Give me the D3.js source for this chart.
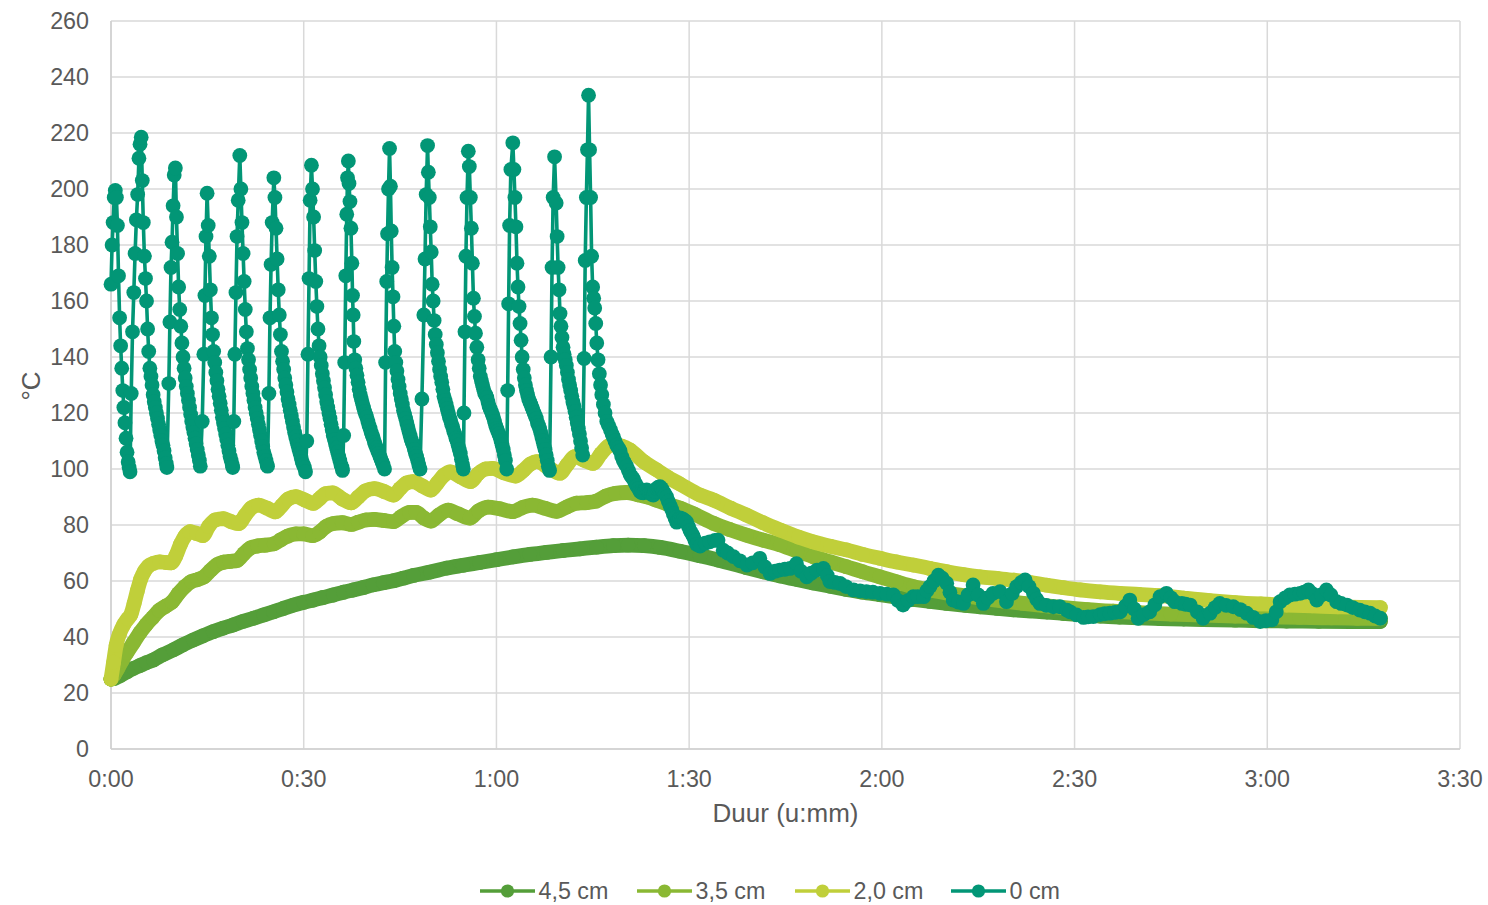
<!DOCTYPE html>
<html>
<head>
<meta charset="utf-8">
<script src="https://cdn.jsdelivr.net/npm/d3@7"></script>
<style>
  html, body { margin: 0; padding: 0; background: #ffffff; }
  svg { display: block; font-family: "Liberation Sans", Arial, sans-serif; }
</style>
</head>
<body>
<svg id="chart" width="1488" height="905"></svg>
<script>
// Series names and colours (legend order = drawing order)
const seriesNames = ["4,5 cm", "3,5 cm", "2,0 cm", "0 cm"];
const seriesColors = ["#549e39", "#8ab833", "#c0cf3a", "#029676"];

// Axis ticks: duration in minutes shown as u:mm, temperature in °C
const xTickValues = [0, 30, 60, 90, 120, 150, 180, 210];
const xTickLabels = ["0:00", "0:30", "1:00", "1:30", "2:00", "2:30", "3:00", "3:30"];
const yTickValues = [0, 20, 40, 60, 80, 100, 120, 140, 160, 180, 200, 220, 240, 260];

// [minutes, °C] at 4,5 cm depth
const temp45 = [
  [0,25],[0.5,25.2],[1.5,26.3],[2.5,27.6],[3.5,28.8],[4.5,29.8],[5.5,30.8],[6.6,31.8],[8,33.6],[9.7,35.4],
  [11.2,37.2],[12.8,38.9],[14.3,40.4],[15.9,41.9],[17.5,43.2],[19,44.3],[20.6,45.6],[22.2,46.7],[23.8,47.9],
  [25.3,49],[26.8,50.2],[28.4,51.4],[30,52.4],[31.5,53.2],[33,54.1],[34.6,55],[36.2,56],[37.7,56.8],[39.3,57.7],
  [40.8,58.6],[42.4,59.4],[44,60.1],[45.5,61],[47.1,62],[49.7,63.2],[52.3,64.6],[54.8,65.6],[57.4,66.6],
  [60,67.6],[62.6,68.6],[65.2,69.5],[67.8,70.2],[70.4,70.9],[73,71.5],[75.6,72.1],[78.2,72.6],[80.5,72.8],
  [83,72.6],[85.5,72],[88.6,70.6],[91.7,69],[94.5,67.5],[98.9,64.8],[101.5,63.3],[104.2,61.8],[106.8,60.5],
  [109.3,59.3],[112,58.1],[114.5,57],[117,56],[119.7,55.1],[122.3,54.2],[124.9,53.4],[127.5,52.7],[130.1,52],
  [133,51.3],[135.3,50.8],[138,50.2],[140.5,49.7],[143,49.3],[145.7,48.9],[148.3,48.4],[150.9,47.9],[154,47.5],
  [157,47.1],[160,46.8],[163.3,46.6],[167,46.4],[170,46.2],[175,46],[178.9,45.8],[183,45.7],[188,45.6],
  [193,45.5],[197.6,45.5]
];

// [minutes, °C] at 3,5 cm depth
const temp35 = [
  [0,25],[0.5,26.5],[1,28.5],[1.7,31.5],[2.5,34.5],[3.5,38],[4.5,41.5],[5.5,44.5],[6.5,47],[7.5,49.5],
  [8.5,51],[9.5,52.5],[10.5,55.5],[11.5,58],[12.5,59.8],[13.5,60.5],[14.5,61.5],[15.5,63.8],[16.5,65.8],
  [17.5,66.7],[18.5,67],[19.7,67.4],[20.7,69.8],[21.7,71.8],[22.8,72.5],[24,72.8],[25.4,73.3],[26.5,74.8],
  [27.5,76],[28.8,76.8],[30,76.8],[31.4,76.2],[32.5,77.5],[33.5,79.5],[34.6,80.5],[36,80.8],[37.4,80.2],
  [38.5,81],[39.7,81.8],[41,82],[42.5,81.6],[44,81.2],[45.2,83],[46.5,84.5],[47.5,84.5],[48.7,82.5],
  [49.8,81.4],[51,83.5],[52.5,85.3],[54,84],[55.9,82.5],[57.2,85],[58.7,86.4],[60.5,85.8],[62.6,84.8],
  [64,86.2],[65.6,87.1],[67.5,86],[69.4,84.9],[71,86.5],[72.5,87.8],[74.1,88],[75.5,88.5],[77,90.3],
  [78.5,91.3],[80.3,91.6],[82,90.8],[83.5,90],[85,88.8],[86.5,87.6],[88.6,86],[90.7,84],[93.8,80.6],
  [96.3,78.4],[98.9,76.4],[101.5,74.6],[104.2,72.9],[106.8,70.7],[109.3,68.7],[112,66.8],[114.5,65.1],
  [117,63.3],[119.7,61.5],[122.3,59.7],[124.9,58],[127.5,56.8],[130.1,55.7],[133,54.7],[136,53.7],[139,52.8],
  [142,52],[145,51.3],[148,50.6],[152,49.8],[156,49.2],[160,48.7],[165,48.2],[170,47.8],[175,47.5],
  [180,47.2],[185,47],[190,46.8],[194,46.7],[197.6,46.6]
];

// [minutes, °C] at 2,0 cm depth
const temp20 = [
  [0,25],[0.4,31],[0.8,37],[1.3,41],[2,44.5],[2.6,46.5],[3.1,48],[3.6,52],[4.1,56.5],[4.6,60.5],[5.2,63.5],
  [5.8,65.3],[6.6,66.3],[7.6,66.8],[8.6,66.6],[9.4,66.5],[10.1,69],[10.8,73],[11.5,76],[12.3,77.6],[13.3,77],
  [14.3,76.2],[15.2,79.5],[16.2,81.8],[17.5,82.3],[18.7,81.2],[19.9,80.5],[20.9,83.5],[21.9,86.2],[23,87.1],
  [24.3,86],[25.6,84.7],[26.6,87],[27.6,89.3],[28.8,90.1],[30.1,89],[31.5,87.7],[32.5,89.5],[33.4,91.2],
  [34.5,91.5],[36,89.3],[37.4,87.9],[38.5,90],[39.6,92.2],[41,93],[42.5,92],[44,90.7],[45,93],[46,95],
  [47,95.5],[48.4,94],[49.8,92.5],[50.8,95],[51.8,97.7],[52.8,99],[54.4,97.2],[56,95.5],[57.1,98.2],
  [58.3,100],[59.4,100.2],[61.2,98.6],[63,97.5],[64.2,99.5],[65.3,101.8],[66.3,102.6],[68.2,100.3],
  [69.9,98.5],[71,101.5],[72.2,104.4],[73.6,103.2],[75,102],[76.3,105.5],[77.5,108.3],[78.3,108.6],
  [79.5,108.2],[80.8,106.8],[83,102.5],[85,99.6],[86.5,97.3],[88.6,94.6],[91.7,90.7],[93.8,88.9],[96.5,86],
  [98.9,83.6],[101.5,80.8],[104.2,78.2],[107,75.7],[109.3,74],[112,72.4],[114.5,71.1],[117,69.5],[119.7,68.1],
  [122.3,66.8],[124.9,65.7],[127.5,64.5],[130.1,63.3],[132.7,62.3],[135.3,61.5],[137.9,60.9],[140.5,60.3],
  [143.1,59.4],[145.7,58.5],[148.3,57.6],[150.9,56.8],[154,56.1],[157,55.6],[160,55.2],[163.3,54.8],
  [167,53.9],[171,53],[175,52.3],[179,51.8],[183,51.4],[187,51.1],[191,50.8],[194.5,50.6],[197.6,50.5]
];

// [minutes, °C] at the surface (0 cm): burner cycles, then cooling
const temp0 = [
  // cycle 1
  [0.00,166],[0.17,180],[0.33,188],[0.50,197],[0.67,199.5],[0.84,197],[1.00,187],[1.17,169],[1.34,154],[1.50,144],
  [1.67,136],[1.84,128],[2.00,122],[2.17,116.5],[2.34,111],[2.50,106],[2.67,102.5],[2.82,100.5],[2.96,99],
  // cycle 2
  [3.15,127],[3.35,149],[3.55,163],[3.75,177],[3.95,189],[4.15,198],[4.35,211],[4.52,216],[4.70,218.5],
  [4.87,203],[5.03,188],[5.20,176],[5.37,168],[5.53,160],[5.70,150],[5.87,142],[6.05,136],[6.22,133],[6.39,130],
  [6.56,126.5],[6.73,124],[6.90,122],[7.07,120],[7.24,118],[7.41,116],[7.58,114],[7.75,112],[7.92,110],[8.09,108.5],
  [8.26,106.5],[8.43,104],[8.60,102],[8.70,100.5],
  // cycle 3
  [9.00,130.5],[9.17,152.5],[9.34,172],[9.50,181],[9.67,194],[9.84,205],[10.02,207.5],
  [10.19,190],[10.36,177],[10.53,165],[10.70,157],[10.87,151],[11.04,145],[11.21,140],[11.38,136],[11.55,132.5],
  [11.72,129.5],[11.89,127],[12.06,124.5],[12.23,122],[12.40,119.5],[12.57,117],[12.74,115],[12.91,113],[13.08,111],
  [13.25,109],[13.42,107],[13.59,105],[13.76,103],[13.90,101],
  // cycle 4
  [14.20,117],[14.45,141],[14.62,162],[14.79,183],[14.96,198.5],
  [15.13,187],[15.30,176],[15.47,164],[15.64,154],[15.81,148],[15.98,142],[16.15,138],[16.32,134.5],[16.49,131.5],
  [16.66,128.5],[16.83,126],[17.00,123.5],[17.17,121],[17.34,118.5],[17.51,116.5],[17.68,114.5],[17.85,112.5],
  [18.02,110.5],[18.19,108.5],[18.36,106.5],[18.53,104.5],[18.70,103],[18.87,101.5],[18.95,100.5],
  // cycle 5
  [19.12,117],[19.28,141],[19.45,163],[19.62,183],[19.80,196],[20.05,212],
  [20.22,200],[20.39,188],[20.56,177],[20.73,167],[20.90,157],[21.07,149],[21.24,143],[21.41,139],[21.58,135.5],
  [21.75,132.5],[21.92,129.5],[22.09,127],[22.26,124.5],[22.43,122],[22.60,120],[22.77,118],[22.94,116],[23.11,114],
  [23.28,112],[23.45,110],[23.62,108],[23.79,106],[23.96,104.5],[24.13,103],[24.30,101.5],[24.37,101],
  // cycle 6
  [24.58,127],[24.75,154],[24.92,173],[25.09,188],[25.35,204],
  [25.52,197],[25.69,186],[25.86,175],[26.03,164],[26.20,155],[26.37,148],[26.54,142],[26.71,138.5],[26.88,135.5],
  [27.05,132.5],[27.22,130],[27.39,127.5],[27.56,125],[27.73,123],[27.90,121],[28.07,119],[28.24,117],[28.41,115],
  [28.58,113],[28.75,111.5],[28.92,110],[29.09,108.5],[29.26,107],[29.43,105.5],[29.60,104],[29.77,102.5],
  [29.94,101.5],[30.11,100.5],[30.28,99],
  // cycle 7
  [30.48,110],[30.66,141],[30.83,168],[31.00,196],[31.20,208.5],
  [31.37,200],[31.54,190],[31.71,178],[31.88,167],[32.05,158],[32.22,150],[32.39,144],[32.56,140],[32.73,137],
  [32.90,134],[33.07,131.5],[33.24,129],[33.41,126.5],[33.58,124],[33.75,122],[33.92,120],[34.09,118],[34.26,116],
  [34.43,114],[34.60,112],[34.77,110.5],[34.94,109],[35.11,107.5],[35.28,106],[35.45,104.5],[35.62,103],
  [35.79,101.5],[35.96,100.5],[36.04,99.5],
  // cycle 8
  [36.22,112],[36.38,138],[36.55,169],[36.70,191],[36.82,204],[36.95,210],
  [37.05,202],[37.20,195.5],[37.35,186],[37.50,173.5],[37.60,162],[37.70,155],[37.80,145.5],[37.95,139],[38.12,136],
  [38.29,133.5],[38.46,131],[38.63,128.5],[38.80,126.5],[38.97,125],[39.14,123.5],[39.31,122],[39.48,120.5],
  [39.65,119.5],[39.82,118.5],[39.99,117],[40.16,115.5],[40.33,114.5],[40.50,113],[40.67,112],[40.84,111],
  [41.01,109.5],[41.18,108.5],[41.35,107.5],[41.52,106.5],[41.69,105.5],[41.86,104.5],[42.03,103.5],[42.20,102.5],
  [42.37,101.5],[42.58,100],
  // cycle 9
  [42.75,138],[42.92,167],[43.05,184],[43.20,200],[43.36,214.5],
  [43.50,201],[43.63,185],[43.76,172],[43.90,161.5],[44.03,151],[44.17,142],[44.34,138],[44.51,135],[44.68,132],
  [44.85,129.5],[45.02,127],[45.19,125],[45.36,123],[45.53,121],[45.70,119.5],[45.87,118],[46.04,116.5],[46.21,115],
  [46.38,113.5],[46.55,112],[46.72,110.5],[46.89,109.5],[47.06,108.5],[47.23,107],[47.40,105.5],[47.57,104.5],
  [47.74,103],[47.91,101.5],[48.11,100],
  // cycle 10
  [48.40,125],[48.70,155],[48.88,175],[49.06,198],[49.28,215.5],
  [49.40,206],[49.55,197],[49.70,186.5],[49.85,177.5],[50.00,166],[50.15,160],[50.30,153],[50.47,148],[50.64,144.5],
  [50.81,141.5],[50.98,138.5],[51.15,135.5],[51.32,133],[51.49,131],[51.66,128.5],[51.83,126],[52.00,124.5],
  [52.17,123],[52.34,121.5],[52.51,120],[52.68,118.5],[52.85,117.5],[53.02,116],[53.19,115],[53.36,113.5],
  [53.53,112.5],[53.70,111],[53.87,110],[54.04,108.5],[54.21,107],[54.38,105.5],[54.55,103.5],[54.72,101.5],[54.85,100],
  // cycle 11
  [54.95,120],[55.10,149],[55.25,176],[55.42,197],[55.62,213.5],
  [55.78,208],[55.94,197],[56.10,186],[56.26,173.5],[56.42,161],[56.58,154.5],[56.74,148.5],[56.95,143.5],[57.15,139],
  [57.32,136],[57.49,133],[57.66,131.5],[57.83,130],[58.00,128.5],[58.17,127],[58.34,126.5],[58.51,125.5],[58.68,124],
  [58.85,122.5],[59.02,121.5],[59.19,120.5],[59.36,119.5],[59.53,118.5],[59.70,117],[59.87,115.5],[60.04,114.5],
  [60.21,113.5],[60.38,112.5],[60.55,111.5],[60.72,110],[60.89,108.5],[61.06,107],[61.23,105],[61.40,103],[61.60,100],
  // cycle 12
  [61.75,128],[61.90,159],[62.05,187],[62.25,207],[62.55,216.5],
  [62.72,207],[62.88,197],[63.04,186.5],[63.20,173.5],[63.36,165],[63.52,158],[63.68,152],[63.84,146],[64.00,140],
  [64.17,135.5],[64.34,132.5],[64.51,130],[64.68,128],[64.85,126.5],[65.02,125],[65.19,124],[65.36,123],[65.53,122],
  [65.70,121],[65.87,120],[66.04,119],[66.21,118],[66.38,116.5],[66.55,115.5],[66.72,114.5],[66.89,113],[67.06,111.5],
  [67.23,110],[67.40,108.5],[67.57,107],[67.74,105],[67.91,103],[68.08,101],[68.27,99.5],
  // cycle 13
  [68.50,140],[68.66,172],[68.83,197],[69.05,211.5],
  [69.30,195],[69.45,183],[69.60,172],[69.75,164],[69.90,155.5],[70.05,151],[70.20,147],[70.37,143.5],[70.54,141],
  [70.71,139],[70.88,137],[71.05,134.5],[71.22,132],[71.39,130],[71.56,128],[71.73,126],[71.90,124],[72.07,122.5],
  [72.24,120.5],[72.41,118.5],[72.58,116.5],[72.75,114.5],[72.92,112.5],[73.09,110],[73.26,107.5],[73.43,105],
  // cycle 14 and cooling
  [73.65,139.5],[73.82,174.5],[74.00,197],[74.17,214],[74.34,233.5],
  [74.50,214],[74.66,197],[74.82,176],[74.98,165],[75.14,161],[75.30,157.5],[75.46,152],[75.62,145],[75.82,139],
  [76.02,134],[76.21,130],[76.40,126.5],[76.65,123],[76.91,120],[77.18,117],[77.45,115.5],[77.75,114],[78.00,112.5],
  [78.20,111.5],[78.45,110],[78.72,108.5],[79.00,107.5],[79.24,106.5],[79.50,104.5],[79.75,103],[80.00,102],
  [80.28,101],[80.55,99.5],[80.80,98],[81.05,97.2],[81.30,96.5],[81.55,95.2],[81.84,94],[82.10,93],[82.35,92],
  [82.60,91.6],[82.86,91.5],[83.12,92],[83.39,92.5],[83.65,92],[83.90,91.5],[84.15,91],[84.42,90.7],[84.70,92],
  [84.95,93],[85.20,93.5],[85.47,93.7],[85.72,93],[85.98,92],[86.25,91],[86.51,90],[86.75,88.5],[87.02,87],
  [87.28,85.5],[87.53,84],[87.80,82.5],[88.06,81],[88.32,81.8],[88.58,82.5],[88.84,82.3],[89.09,82],[89.35,81.5],
  [89.62,81],[89.88,79.5],[90.13,78],[90.40,77],[90.65,76],[90.90,74.5],[91.18,73],
  [91.7,72.5],[92.5,73.5],[93.2,74],[94.0,74.5],[94.5,74.6],[95.3,71],[96.0,70],[96.9,68.7],[97.9,67.2],[99.0,65.7],
  [99.9,66.5],[101.0,68.1],[101.8,65],[102.6,62.7],[103.4,63.5],[104.1,63.9],[104.9,64.2],[105.7,64.5],[106.7,66.2],
  [107.4,63.5],[108.3,61.5],[109.0,62.8],[109.9,63.9],[110.9,64.5],[111.5,62],[111.9,59.8],[112.7,59.5],[113.5,59.1],
  [114.4,58],[115.6,56.8],[116.6,56.5],[117.6,56.2],[118.6,56],[119.7,55.6],[120.8,55.3],[121.8,55],[122.5,53],
  [123.3,51.4],[124.1,53],[124.9,54.4],[125.6,54.4],[126.5,54.4],[127.0,56.5],[127.5,58],[128.1,60],[128.8,62.1],
  [129.4,61],[130.1,59.2],[130.6,56],[131.1,53.2],[131.9,52.5],[132.7,52],[133.4,55],[134.2,58.6],[135.0,55],
  [135.8,52],[136.5,54],[137.3,55.6],[138.4,56.2],[139.4,52.6],[140.3,55.5],[141.0,58],[141.7,59.5],[142.3,60.4],
  [142.9,58],[143.6,55.6],[144.1,53.5],[144.6,52],[145.6,51.3],[146.7,50.8],[147.7,50.8],[148.8,49.6],[149.3,49],
  [150.3,47.9],[151.4,47],[152.1,47.2],[152.9,47.3],[154.0,48],[154.7,48.3],[155.5,48.5],[156.3,48.8],[157.1,49],
  [157.9,51],[158.6,53.2],[159.3,50],[159.9,46.7],[160.8,48],[161.7,49],[162.5,51.5],[163.3,54.4],[164.3,55.6],
  [165.0,54],[165.6,52.6],[166.7,52],[167.3,51.7],[168.0,51.4],[169.1,49],[170.0,46.7],[171.1,48.5],[171.9,50.5],
  [172.6,52],[173.6,51.3],[174.7,50.8],[175.8,49.8],[176.8,48.5],[177.8,47],[178.9,45.5],[179.8,45.8],[180.7,46.1],
  [181.4,49],[182.0,52.6],[182.8,54],[183.5,55],[184.3,55.3],[185.1,55.6],[185.7,56],[186.4,56.8],[187.0,55.5],
  [187.7,53.2],[188.4,55],[189.2,56.8],[189.9,55],[190.8,52.6],[191.5,52],[192.4,51.4],[193.3,50.5],[194.4,49.6],
  [195.2,49],[196.0,48.5],[196.8,47.5],[197.6,46.7]
];

const seriesData = [temp45, temp35, temp20, temp0];

// ---- layout ----
const svg = d3.select("#chart");
const plot = { left: 111, right: 1460, top: 21, bottom: 749 };
const textColor = "#595959";
const gridColor = "#d9d9d9";
const tickFont = 23.3;
const titleFont = 26;

const x = d3.scaleLinear().domain([0, 210]).range([plot.left, plot.right]);
const y = d3.scaleLinear().domain([0, 260]).range([plot.bottom, plot.top]);

// Gridlines
const grid = svg.append("g");
grid.selectAll("line.h").data(yTickValues).join("line")
  .attr("x1", plot.left).attr("x2", plot.right)
  .attr("y1", d => y(d)).attr("y2", d => y(d))
  .attr("stroke", gridColor).attr("stroke-width", 1.5);
grid.selectAll("line.v").data(xTickValues).join("line")
  .attr("x1", d => x(d)).attr("x2", d => x(d))
  .attr("y1", plot.top).attr("y2", plot.bottom)
  .attr("stroke", gridColor).attr("stroke-width", 1.5);

// Axis lines
svg.append("line").attr("x1", plot.left).attr("x2", plot.right)
  .attr("y1", y(0)).attr("y2", y(0)).attr("stroke", "#d0d0d0").attr("stroke-width", 1.5);
svg.append("line").attr("x1", x(0)).attr("x2", x(0))
  .attr("y1", plot.top).attr("y2", plot.bottom).attr("stroke", "#d0d0d0").attr("stroke-width", 1.5);

// Y tick labels
svg.append("g").selectAll("text").data(yTickValues).join("text")
  .attr("x", 89).attr("y", d => y(d)).attr("dy", "0.357em")
  .attr("text-anchor", "end").attr("fill", textColor).attr("font-size", tickFont)
  .text(d => d);

// X tick labels
svg.append("g").selectAll("text").data(xTickValues).join("text")
  .attr("x", d => x(d)).attr("y", 786.5)
  .attr("text-anchor", "middle").attr("fill", textColor).attr("font-size", tickFont)
  .text((d, i) => xTickLabels[i]);

// Axis titles
svg.append("text").attr("x", (plot.left + plot.right) / 2).attr("y", 822)
  .attr("text-anchor", "middle").attr("fill", textColor).attr("font-size", titleFont)
  .text("Duur (u:mm)");
svg.append("text").attr("transform", "translate(40,386) rotate(-90)")
  .attr("text-anchor", "middle").attr("fill", textColor).attr("font-size", titleFont)
  .text("°C");

// ---- series ----
// Depth series are sampled so densely that their markers merge into a broad band;
// the surface series shows separate markers joined by a thin line.
const smoothLine = d3.line().x(d => x(d[0])).y(d => y(d[1])).curve(d3.curveMonotoneX);
const plainLine = d3.line().x(d => x(d[0])).y(d => y(d[1]));
const markerRadius = 7.4;

const seriesLayer = svg.append("g");
seriesData.forEach((data, i) => {
  const g = seriesLayer.append("g");
  const surface = i === 3;
  g.append("path")
    .attr("d", surface ? plainLine(data) : smoothLine(data))
    .attr("fill", "none")
    .attr("stroke", seriesColors[i])
    .attr("stroke-width", surface ? 3.6 : markerRadius * 2)
    .attr("stroke-linejoin", "round")
    .attr("stroke-linecap", "round");
  g.selectAll("circle").data(data).join("circle")
    .attr("cx", d => x(d[0])).attr("cy", d => y(d[1]))
    .attr("r", markerRadius)
    .attr("fill", seriesColors[i]);
});

// ---- legend ----
const legend = svg.append("g");
const legendX = [480, 637, 795, 951];
seriesNames.forEach((name, i) => {
  const lx = legendX[i], ly = 891;
  legend.append("line").attr("x1", lx).attr("x2", lx + 55).attr("y1", ly).attr("y2", ly)
    .attr("stroke", seriesColors[i]).attr("stroke-width", 3.6);
  legend.append("circle").attr("cx", lx + 27.5).attr("cy", ly).attr("r", 6.6)
    .attr("fill", seriesColors[i]);
  legend.append("text").attr("x", lx + 58.5).attr("y", ly).attr("dy", "0.357em")
    .attr("fill", textColor).attr("font-size", tickFont).text(name);
});
</script>
</body>
</html>
